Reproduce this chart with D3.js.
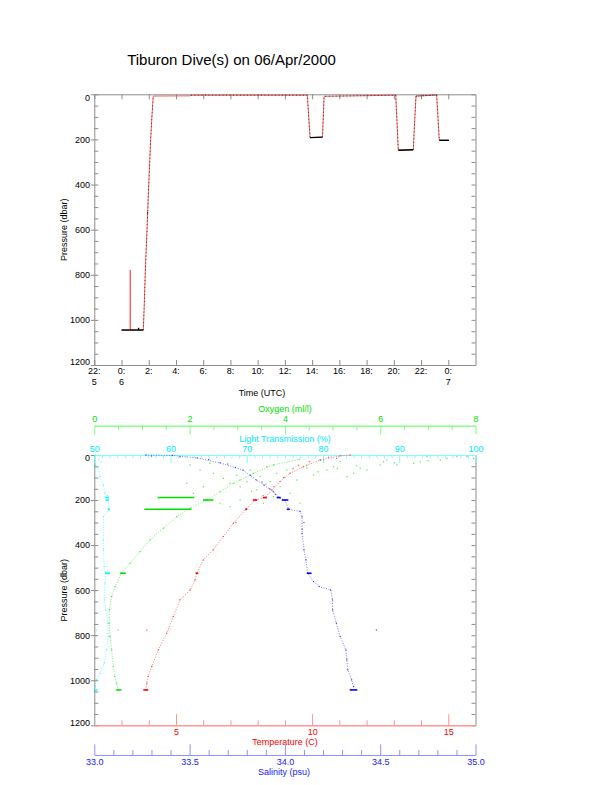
<!DOCTYPE html>
<html><head><meta charset="utf-8">
<script src="https://cdn.jsdelivr.net/npm/d3@7"></script>
<style>
body{margin:0;background:#fff}
svg{display:block}
text{font-family:"Liberation Sans",Arial,Helvetica,sans-serif}
</style>
</head><body>
<svg id="c" width="612" height="785"></svg>
<script>
// ---------------- DATA ----------------
const chartTitle = "Tiburon Dive(s) on 06/Apr/2000";
// top chart: time in hours since 00:00 06/Apr/2000 (UTC)
const timeTicks = [-2, 0, 2, 4, 6, 8, 10, 12, 14, 16, 18, 20, 22, 24];
const timeTickLabels = ["22:", "0:", "2:", "4:", "6:", "8:", "10:", "12:", "14:", "16:", "18:", "20:", "22:", "0:"];
const timeTickDays = ["5", "6", "", "", "", "", "", "", "", "", "", "", "", "7"];
const pressureTicks = [0, 200, 400, 600, 800, 1000, 1200];

// vehicle pressure track (red)
const trackHours = [0.00, 0.63, 0.64, 0.65, 1.60, 1.66, 1.74, 1.80, 1.86, 1.92, 1.98, 2.05, 2.14, 2.22, 2.33,
  5.00, 5.10, 13.65, 13.75, 13.85, 14.30, 14.76, 14.82, 14.88,
  20.14, 20.24, 20.33, 20.90, 21.43, 21.53, 21.63, 23.15, 23.25, 23.34, 24.05];
const trackPressure = [1045, 1045, 779, 1045, 1045, 950, 800, 700, 620, 525, 430, 330, 200, 110, 8,
  7, 4, 4, 100, 192, 191, 190, 100, 9,
  4, 130, 248, 247, 246, 120, 8, 3, 110, 204, 204];
// stationary (bottom) periods, black: [startHour, endHour, startP, endP]
const trackHolds = [[0.00, 1.60, 1045, 1045], [1.25, 1.25, 1045, 1035], [1.89, 1.95, 525, 525],
  [13.85, 14.76, 192, 190], [20.33, 21.43, 248, 246], [23.34, 24.05, 204, 204]];

// bottom chart profiles: [pressure, value]
const tempProfile = [[1043, 3.90], [1013, 3.93], [983, 3.98], [939, 4.11], [865, 4.35], [791, 4.66], [717, 4.90],
  [643, 5.15], [599, 5.52], [555, 5.70], [525, 5.77], [466, 6.00], [421, 6.37], [362, 6.74], [303, 7.11],
  [241, 7.57], [200, 7.90], [189, 8.27], [155, 8.52], [118, 8.82], [81, 9.19], [52, 9.68], [22, 10.30],
  [4, 11.03], [0, 11.40]];
const tempScatter = [[10, 10.6], [30, 9.9], [60, 9.3], [15, 10.9], [45, 9.5], [100, 8.95], [140, 8.6], [777, 3.93], [300, 7.2], [180, 8.2]];
const tempHolds = [[1043, 3.80, 3.98], [525, 5.72, 5.82], [241, 7.54, 7.62], [200, 7.82, 7.99], [189, 8.19, 8.34]];

const salProfile = [[1028, 34.36], [998, 34.35], [954, 34.33], [909, 34.325], [865, 34.32], [806, 34.29], [747, 34.27],
  [688, 34.25], [643, 34.25], [599, 34.24], [584, 34.18], [562, 34.15], [525, 34.12], [466, 34.11], [421, 34.10],
  [348, 34.09], [274, 34.09], [250, 34.08], [241, 34.02], [200, 34.00], [189, 33.97], [163, 33.94], [133, 33.89],
  [111, 33.85], [67, 33.78], [35, 33.66], [13, 33.54], [2, 33.41], [0, 33.27]];
const salScatter = [[5, 33.30], [8, 33.45], [20, 33.60], [40, 33.70], [55, 33.74], [90, 33.82], [120, 33.88], [150, 33.92], [175, 33.95], [777, 34.48], [300, 34.10], [330, 34.09]];
const salHolds = [[1043, 34.34, 34.38], [525, 34.115, 34.14], [241, 34.01, 34.025], [200, 33.984, 34.018], [189, 33.957, 33.978]];

const oxProfile = [[1043, 0.50], [1013, 0.47], [983, 0.43], [939, 0.40], [865, 0.365], [806, 0.33], [747, 0.315],
  [688, 0.315], [628, 0.365], [584, 0.435], [525, 0.575], [481, 0.75], [429, 0.96], [377, 1.17], [325, 1.45],
  [274, 1.73], [236, 2.01], [200, 2.36], [163, 2.64], [126, 2.92], [81, 3.34], [44, 3.76], [20, 4.3]];
const oxScatter = [[44, 2.01], [67, 2.22], [37, 2.43], [81, 2.50], [104, 2.71], [126, 2.85], [89, 2.99], [141, 3.06],
  [118, 3.20], [67, 3.27], [155, 3.41], [96, 3.48], [52, 3.62], [118, 3.69], [185, 3.76], [81, 3.83], [141, 3.90],
  [67, 4.04], [170, 4.11], [111, 4.25], [214, 4.32], [44, 4.46], [89, 4.60], [22, 4.74], [67, 4.88], [52, 5.02],
  [30, 5.16], [96, 5.30], [81, 5.44], [59, 5.58], [67, 5.72], [44, 6.00], [22, 6.14], [44, 6.35], [37, 6.70],
  [30, 6.84], [7, 6.98], [22, 7.26], [15, 7.40], [7, 7.61], [7, 7.82], [15, 7.96], [170, 2.08], [141, 2.29],
  [214, 2.64], [229, 2.85], [200, 3.06], [214, 3.55], [126, 1.94], [111, 3.06], [59, 4.46], [30, 6.07],
  [777, 0.50], [160, 3.3], [130, 3.6], [100, 4.0], [75, 4.7], [60, 5.1], [48, 5.5], [35, 6.3], [25, 7.0]];
const oxHolds = [[1043, 0.46, 0.57], [525, 0.54, 0.66], [241, 1.05, 2.04], [200, 2.28, 2.50], [189, 1.33, 2.10]];

const ltProfile = [[1028, 50.1], [998, 50.3], [969, 50.75], [924, 51.3], [865, 51.6], [806, 51.8], [747, 51.8],
  [688, 51.5], [643, 51.3], [569, 51.4], [525, 51.5], [495, 51.3], [421, 51.2], [377, 51.2], [274, 51.2],
  [244, 51.9], [200, 51.9], [180, 51.7], [170, 51.4], [133, 51.2], [96, 50.75], [52, 50.5], [44, 50.1], [0, 50.1]];
const ltScatter = [[777, 50.3], [20, 50.6], [30, 50.9]];
const ltHolds = [[1043, 50.0, 50.4], [525, 51.4, 52.06], [241, 51.76, 52.06], [200, 51.5, 51.9], [189, 51.4, 51.9]];

// ---------------- DRAW ----------------
const svg = d3.select("#c");
const FONT = "'Liberation Sans', Arial, Helvetica, sans-serif";
const L = 94.3, R = 475.5;
const topY0 = 94.3, topY1 = 365;
const botY0 = 455, botY1 = 725.3;
const AX = "#8c8c8c";

const xT = d3.scaleLinear().domain([-2, 26]).range([L, R]);
const yT = d3.scaleLinear().domain([0, 1200]).range([topY0, topY1]);
const yB = d3.scaleLinear().domain([0, 1200]).range([botY0, botY1]);
const xTemp = d3.scaleLinear().domain([2, 16]).range([L, R]);
const xSal = d3.scaleLinear().domain([33, 35]).range([L, R]);
const xOx = d3.scaleLinear().domain([0, 8]).range([L, R]);
const xLT = d3.scaleLinear().domain([50, 100]).range([L, R]);

function style(g, lineColor, textColor, noDomain) {
  g.attr("font-family", FONT).attr("font-size", 9);
  g.select(".domain").attr("stroke", lineColor).attr("stroke-width", 1);
  if (noDomain) g.select(".domain").remove();
  g.selectAll(".tick line").attr("stroke", lineColor).attr("stroke-width", 1);
  g.selectAll(".tick text").attr("fill", textColor);
  return g;
}

svg.append("text").attr("x", 231.5).attr("y", 65).attr("text-anchor", "middle")
  .attr("font-size", 15).attr("fill", "#000").text(chartTitle);

const minor50 = d3.range(0, 1201, 50);

function pressureAxes(y, y0, y1) {
  style(svg.append("g").attr("transform", `translate(${R},0)`)
    .call(d3.axisLeft(y).tickValues(minor50).tickSize(4).tickSizeOuter(0).tickFormat("")), AX, "#000");
  style(svg.append("g").attr("transform", `translate(${L},0)`)
    .call(d3.axisRight(y).tickValues(minor50).tickSize(4).tickSizeOuter(0).tickFormat("")), AX, "#000", true);
  const g = style(svg.append("g").attr("transform", `translate(${L},0)`)
    .call(d3.axisLeft(y).tickValues(pressureTicks).tickSize(3.5).tickPadding(0.8).tickSizeOuter(0)
      .tickFormat(d3.format("d"))), AX, "#000");
  g.selectAll(".tick text").attr("y", d => d === 0 ? 3 : (d === 1200 ? -3 : 0));
  svg.append("text").attr("transform", `translate(66.5,${(y0 + y1) / 2}) rotate(-90)`)
    .attr("text-anchor", "middle").attr("font-size", 9).attr("fill", "#000").text("Pressure (dbar)");
}

// ---- top chart ----
pressureAxes(yT, topY0, topY1);
style(svg.append("g").attr("transform", `translate(0,${topY1})`)
  .call(d3.axisBottom(xT).tickValues(timeTicks).tickSize(-5).tickSizeOuter(0).tickFormat("")), AX, "#000");
style(svg.append("g").attr("transform", `translate(0,${topY0})`)
  .call(d3.axisBottom(xT).tickValues(timeTicks).tickSize(5).tickSizeOuter(0).tickFormat("")), AX, "#000");
const tl = svg.append("g").attr("font-size", 9).attr("text-anchor", "middle").attr("fill", "#000");
tl.selectAll("text.l1").data(timeTicks).join("text").attr("class", "l1")
  .attr("x", d => xT(d)).attr("y", 373.8).text((d, i) => timeTickLabels[i]);
tl.selectAll("text.l2").data(timeTicks).join("text").attr("class", "l2")
  .attr("x", d => xT(d)).attr("y", 385.3).text((d, i) => timeTickDays[i]);
svg.append("text").attr("x", 262).attr("y", 395.5).attr("text-anchor", "middle")
  .attr("font-size", 9).attr("fill", "#000").text("Time (UTC)");

const trackLine = d3.line().x(d => xT(d[0])).y(d => yT(d[1]));
const track = trackHours.map((h, i) => [h, trackPressure[i]]);
svg.append("path").attr("d", trackLine(track)).attr("fill", "none")
  .attr("stroke", "#ff4040").attr("stroke-width", 1).attr("stroke-opacity", 0.8);
// black dotted overlay on vertical transits
[[4, 15], [16, 20], [21, 25], [24, 28], [28, 32], [30, 35]].forEach(r => {
  svg.append("path").attr("d", trackLine(track.slice(r[0], r[1]))).attr("fill", "none")
    .attr("stroke", "#000").attr("stroke-width", 1).attr("stroke-dasharray", "1,2.5").attr("stroke-opacity", 0.65);
});
svg.selectAll("line.hold").data(trackHolds).join("line").attr("class", "hold")
  .attr("x1", d => xT(d[0])).attr("x2", d => xT(d[1]))
  .attr("y1", d => yT(d[2])).attr("y2", d => yT(d[3]))
  .attr("stroke", "#000").attr("stroke-width", 1.4);

// ---- bottom chart ----
pressureAxes(yB, botY0, botY1);

// light transmission (top edge)
style(svg.append("g").attr("transform", `translate(0,${botY0})`)
  .call(d3.axisTop(xLT).tickValues(d3.range(50, 101).filter(v => v % 10 !== 0)).tickSize(-3.5).tickSizeOuter(0).tickFormat("")), "#7fffff", "#00ffff");
style(svg.append("g").attr("transform", `translate(0,${botY0})`)
  .call(d3.axisTop(xLT).tickValues(d3.range(50, 101, 10)).tickSize(-8).tickSizeOuter(0).tickPadding(3)), "#7fffff", "#00e8ff");
svg.append("text").attr("x", 285).attr("y", 442.3).attr("text-anchor", "middle").attr("font-size", 9)
  .attr("fill", "#00e8ff").text("Light Transmission (%)");

// oxygen (separate axis above)
const oxY = 425.7;
style(svg.append("g").attr("transform", `translate(0,${oxY})`)
  .call(d3.axisTop(xOx).tickValues(d3.range(0, 16).map(i => i * 0.5).filter((v, i) => i % 4 !== 0)).tickSize(-4.5).tickSizeOuter(0).tickFormat("")), "#80ff80", "#00e000");
style(svg.append("g").attr("transform", `translate(0,${oxY})`)
  .call(d3.axisTop(xOx).tickValues([0, 2, 4, 6, 8]).tickSize(-9).tickSizeOuter(0).tickPadding(4)), "#80ff80", "#00e000");
svg.append("text").attr("x", 285).attr("y", 412.3).attr("text-anchor", "middle").attr("font-size", 9)
  .attr("fill", "#00e000").text("Oxygen (ml/l)");

// temperature (bottom edge)
style(svg.append("g").attr("transform", `translate(0,${botY1})`)
  .call(d3.axisBottom(xTemp).tickValues(d3.range(3, 16).filter(v => v % 5 !== 0)).tickSize(-5).tickSizeOuter(0).tickFormat("")), "#ff9090", "#ff0000");
style(svg.append("g").attr("transform", `translate(0,${botY1})`)
  .call(d3.axisBottom(xTemp).tickValues([5, 10, 15]).tickSize(-11).tickSizeOuter(0).tickPadding(3.8)), "#ff9090", "#ff0000");
svg.append("text").attr("x", 285).attr("y", 745.4).attr("text-anchor", "middle").attr("font-size", 9)
  .attr("fill", "#ff0000").text("Temperature (C)");

// salinity (separate axis below)
const salY = 755;
style(svg.append("g").attr("transform", `translate(0,${salY})`)
  .call(d3.axisBottom(xSal).tickValues(d3.range(0, 21).filter(i => i % 5 !== 0).map(i => 33 + i * 0.1)).tickSize(-5).tickSizeOuter(0).tickFormat("")), "#9090ff", "#0000ff");
style(svg.append("g").attr("transform", `translate(0,${salY})`)
  .call(d3.axisBottom(xSal).tickValues([33, 33.5, 34, 34.5, 35]).tickSize(-10.7).tickSizeOuter(0).tickPadding(3.6).tickFormat(d3.format(".1f"))), "#9090ff", "#2020ff");
svg.append("text").attr("x", 284).attr("y", 774.5).attr("text-anchor", "middle").attr("font-size", 9)
  .attr("fill", "#2020ff").text("Salinity (psu)");

// profiles
function drawProfile(profile, scatter, holds, xs, color) {
  const g = svg.append("g");
  const line = d3.line().x(d => xs(d[1])).y(d => yB(d[0]));
  g.append("path").attr("d", line(profile)).attr("fill", "none").attr("stroke", color)
    .attr("stroke-width", 1).attr("stroke-dasharray", "1,1.6").attr("stroke-opacity", 0.55);
  g.selectAll("rect.p").data(profile.concat(scatter)).join("rect").attr("class", "p")
    .attr("x", d => xs(d[1]) - 0.6).attr("y", d => yB(d[0]) - 0.6).attr("width", 1.2).attr("height", 1.2)
    .attr("fill", color).attr("fill-opacity", 0.7);
  g.selectAll("line.h").data(holds).join("line").attr("class", "h")
    .attr("x1", d => xs(d[1])).attr("x2", d => xs(d[2]))
    .attr("y1", d => yB(d[0])).attr("y2", d => yB(d[0]))
    .attr("stroke", color).attr("stroke-width", 1.6);
}
drawProfile(ltProfile, ltScatter, ltHolds, xLT, "#00ffff");
drawProfile(oxProfile, oxScatter, oxHolds, xOx, "#00e000");
drawProfile(salProfile, salScatter, salHolds, xSal, "#0000ff");
drawProfile(tempProfile, tempScatter, tempHolds, xTemp, "#ff0000");
</script>
</body></html>
